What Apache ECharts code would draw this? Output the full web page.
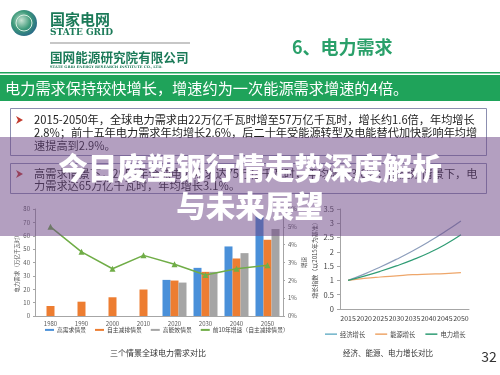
<!DOCTYPE html>
<html>
<head>
<meta charset="utf-8">
<script src="https://cdn.jsdelivr.net/npm/echarts@6/dist/echarts.min.js"></script>
<style>
  html, body { margin: 0; padding: 0; background: #fff; }
  #main { width: 500px; height: 375px; }
</style>
</head>
<body>
<div id="main"></div>
<script>
// 三个情景全球电力需求对比 (万亿千瓦时)
let barYears = ['1980', '1990', '2000', '2010', '2020', '2030', '2040', '2050'];
let highDemand = ['-', '-', '-', '-', 27, 36, 52, 75];
let selfReduce = [7.5, 10.7, 14, 19.8, 26.5, 33, 43, 57];
let highEfficiency = ['-', '-', '-', '-', 25, 33, 47, 65];
let growthRate = [5.0, 3.6, 2.65, 3.4, 2.9, 2.3, 2.65, 2.85];
let rateTicks = [0, 6, 1];

// 经济、能源、电力增长对比 (2015 = 1)
let idxYears = ['2015', '2020', '2025', '2030', '2035', '2040', '2045', '2050'];
let economyIdx = [1.0, 1.22, 1.47, 1.74, 2.03, 2.35, 2.7, 3.08];
let energyIdx = [1.0, 1.07, 1.12, 1.16, 1.2, 1.22, 1.24, 1.27];
let powerIdx = [1.0, 1.15, 1.32, 1.51, 1.72, 1.96, 2.25, 2.6];

const FONT = '"Noto Sans CJK SC", "Noto Sans", sans-serif';
const GREEN = '#1fa35a';
const TEAL = '#1b7a58';

let txt = (text, x, y, size, color, opts) => Object.assign({
    type: 'text',
    x: x,
    y: y,
    style: Object.assign({
        text: text,
        fill: color,
        font: size + 'px ' + FONT,
        textAlign: 'left',
        textVerticalAlign: 'middle'
    }, (opts && opts.style) || {})
}, opts && opts.z ? {z: opts.z} : {});

let axisText = {color: '#595959', fontSize: 6};

let option = {
    animation: false,
    backgroundColor: '#fff',
    textStyle: {fontFamily: FONT},
    grid: [
        {left: 35, top: 209, width: 248, height: 107},
        {left: 340, top: 209, width: 129, height: 100}
    ],
    legend: [
        {
            data: ['高需求情景', '自主减排情景', '高能效情景', '前10年增速（自主减排情景）'],
            left: 40, top: 322,
            icon: 'rect', itemWidth: 9, itemHeight: 2, itemGap: 9,
            textStyle: {fontSize: 5.8, color: '#404040', padding: [0, 0, 0, -2]}
        },
        {
            data: ['经济增长', '能源增长', '电力增长'],
            left: 320, top: 326,
            icon: 'rect', itemWidth: 12, itemHeight: 1.5, itemGap: 10,
            textStyle: {fontSize: 6.3, color: '#404040', padding: [0, 0, 0, -2]}
        }
    ],
    xAxis: [
        {
            type: 'category', gridIndex: 0, data: barYears,
            axisLine: {lineStyle: {color: '#a6a6a6'}},
            axisTick: {length: 2, lineStyle: {color: '#a6a6a6'}},
            axisLabel: Object.assign({margin: 5}, axisText)
        },
        {
            type: 'category', gridIndex: 1, data: idxYears,
            axisLine: {lineStyle: {color: '#a6a6a6'}},
            axisTick: {length: 3, lineStyle: {color: '#a6a6a6'}},
            axisLabel: {color: '#404040', fontSize: 7, margin: 6, interval: 0}
        }
    ],
    yAxis: [
        {
            type: 'value', gridIndex: 0, min: 0, max: 80, interval: 10,
            name: '电力需求（万亿千瓦时）', nameLocation: 'middle', nameGap: 15,
            nameTextStyle: {fontSize: 5.5, color: '#595959'},
            axisLine: {show: true, lineStyle: {color: '#a6a6a6'}},
            axisTick: {show: true, length: 2, lineStyle: {color: '#a6a6a6'}},
            splitLine: {show: false},
            axisLabel: Object.assign({margin: 5}, axisText)
        },
        {
            type: 'value', gridIndex: 0, position: 'right',
            min: rateTicks[0], max: rateTicks[1], interval: rateTicks[2],
            name: '增速', nameLocation: 'middle', nameGap: 13, nameRotate: 90,
            nameTextStyle: {fontSize: 5.5, color: '#595959'},
            axisLine: {show: true, lineStyle: {color: '#a6a6a6'}},
            axisTick: {show: true, length: 2, lineStyle: {color: '#a6a6a6'}},
            splitLine: {show: false},
            axisLabel: Object.assign({margin: 5, formatter: '{value}%'}, axisText)
        },
        {
            type: 'value', gridIndex: 1, min: 0, max: 3.5, interval: 0.5,
            name: '增长指数（以2015年为基准）', nameLocation: 'middle', nameGap: 22,
            nameTextStyle: {fontSize: 6, color: '#404040'},
            axisLine: {show: true, lineStyle: {color: '#a6a6a6'}},
            axisTick: {show: true, length: 3, lineStyle: {color: '#a6a6a6'}},
            splitLine: {show: false},
            axisLabel: {color: '#404040', fontSize: 7.5, margin: 6}
        }
    ],
    series: [
        {
            name: '高需求情景', type: 'bar', xAxisIndex: 0, yAxisIndex: 0,
            data: highDemand, barWidth: 8, barGap: '0%',
            itemStyle: {color: '#4a90d9'}
        },
        {
            name: '自主减排情景', type: 'bar', xAxisIndex: 0, yAxisIndex: 0,
            data: selfReduce, barWidth: 8, barGap: '0%',
            itemStyle: {color: '#ed7d31'}
        },
        {
            name: '高能效情景', type: 'bar', xAxisIndex: 0, yAxisIndex: 0,
            data: highEfficiency, barWidth: 8, barGap: '0%',
            itemStyle: {color: '#a5a5a5'}
        },
        {
            name: '前10年增速（自主减排情景）', type: 'line', xAxisIndex: 0, yAxisIndex: 1,
            data: growthRate, symbol: 'triangle', symbolSize: 6,
            lineStyle: {color: '#70ad47', width: 1.5},
            itemStyle: {color: '#70ad47'}
        },
        {
            name: '经济增长', type: 'line', xAxisIndex: 1, yAxisIndex: 2,
            data: economyIdx, smooth: true, showSymbol: false,
            lineStyle: {color: '#8c9dbb', width: 1.2},
            itemStyle: {color: '#6fb3c9'}
        },
        {
            name: '能源增长', type: 'line', xAxisIndex: 1, yAxisIndex: 2,
            data: energyIdx, smooth: true, showSymbol: false,
            lineStyle: {color: '#eea66a', width: 1.2},
            itemStyle: {color: '#eea66a'}
        },
        {
            name: '电力增长', type: 'line', xAxisIndex: 1, yAxisIndex: 2,
            data: powerIdx, smooth: true, showSymbol: false,
            lineStyle: {color: '#2f9c74', width: 1.2},
            itemStyle: {color: '#2f9c74'}
        }
    ],
    graphic: [
        // header / logo
        {
            type: 'circle', shape: {cx: 24, cy: 23, r: 13},
            style: {
                fill: new echarts.graphic.RadialGradient(0.4, 0.4, 0.7, [
                    {offset: 0, color: '#c9e4d4'},
                    {offset: 0.5, color: '#3e9a7a'},
                    {offset: 1, color: '#245f8a'}
                ])
            }
        },
        {
            type: 'circle', shape: {cx: 24, cy: 23, r: 8},
            style: {fill: 'none', stroke: '#d9efe3', lineWidth: 1}
        },
        txt('国家电网', 50, 19, 15, TEAL, {style: {font: 'bold 15px ' + FONT}}),
        txt('STATE GRID', 50, 33, 9, TEAL, {style: {font: 'bold 9px "DejaVu Serif", serif'}}),
        {type: 'line', shape: {x1: 50, y1: 43, x2: 190, y2: 43}, style: {stroke: '#8f8f8f', lineWidth: 1}},
        txt('国网能源研究院有限公司', 50, 57, 12.6, TEAL, {style: {font: 'bold 12.6px ' + FONT}}),
        txt('STATE GRID ENERGY RESEARCH INSTITUTE CO., LTD.', 50, 67, 3.6, TEAL, {style: {font: 'bold 3.6px "DejaVu Serif", serif'}}),
        txt('6、电力需求', 292, 47, 18, '#2aa06a', {style: {font: 'bold 18px ' + FONT}}),
        {type: 'rect', shape: {x: 0, y: 72, width: 500, height: 1.5}, style: {fill: GREEN}},
        {type: 'rect', shape: {x: 0, y: 75, width: 500, height: 26}, style: {fill: GREEN}},
        txt('电力需求保持较快增长，增速约为一次能源需求增速的4倍。', 5, 88, 15.2, '#ffffff'),

        // text boxes
        {type: 'rect', shape: {x: 10.5, y: 108.5, width: 476, height: 47}, style: {fill: 'none', stroke: '#8c8fb0', lineWidth: 1}},
        {type: 'polygon', shape: {points: [[16, 116], [23, 120], [16, 124], [18, 120]]}, style: {fill: '#c23b2e'}},
        txt('2015-2050年，全球电力需求由22万亿千瓦时增至57万亿千瓦时，增长约1.6倍，年均增长', 34, 120, 11.2, '#222'),
        txt('2.8%；前十五年电力需求年均增长2.6%，后二十年受能源转型及电能替代加快影响年均增', 34, 133, 11.2, '#222'),
        txt('速提高到2.9%。', 34, 146, 11.2, '#222'),
        {type: 'rect', shape: {x: 10.5, y: 163.5, width: 476, height: 30}, style: {fill: 'none', stroke: '#8c8fb0', lineWidth: 1}},
        {type: 'polygon', shape: {points: [[16, 170], [23, 174], [16, 178], [18, 174]]}, style: {fill: '#c23b2e'}},
        txt('高需求情景下，2050年全球电力需求达75万亿千瓦时，年均增长3.6%；高能效情景下，电', 34, 174, 11.2, '#222'),
        txt('力需求达65万亿千瓦时，年均增长3.1%。', 34, 186, 11.2, '#222'),

        // chart captions
        txt('三个情景全球电力需求对比', 158, 353, 8, '#333', {style: {textAlign: 'center'}}),
        txt('经济、能源、电力增长对比', 388, 353, 7.5, '#333', {style: {textAlign: 'center'}}),
        txt('32', 489, 357, 14, '#333', {style: {textAlign: 'center'}}),

        // overlay band and headline
        {type: 'rect', z: 100, shape: {x: 0, y: 137, width: 500, height: 99}, style: {fill: 'rgba(110,70,135,0.52)'}},
        txt('今日废塑钢行情走势深度解析', 250, 168, 29.5, '#ffffff', {z: 101, style: {font: '900 29.5px ' + FONT, textAlign: 'center'}}),
        txt('与未来展望', 250, 206, 29.5, '#ffffff', {z: 101, style: {font: '900 29.5px ' + FONT, textAlign: 'center'}})
    ]
};

let myChart = echarts.init(document.getElementById('main'));
myChart.setOption(option);
</script>
</body>
</html>
